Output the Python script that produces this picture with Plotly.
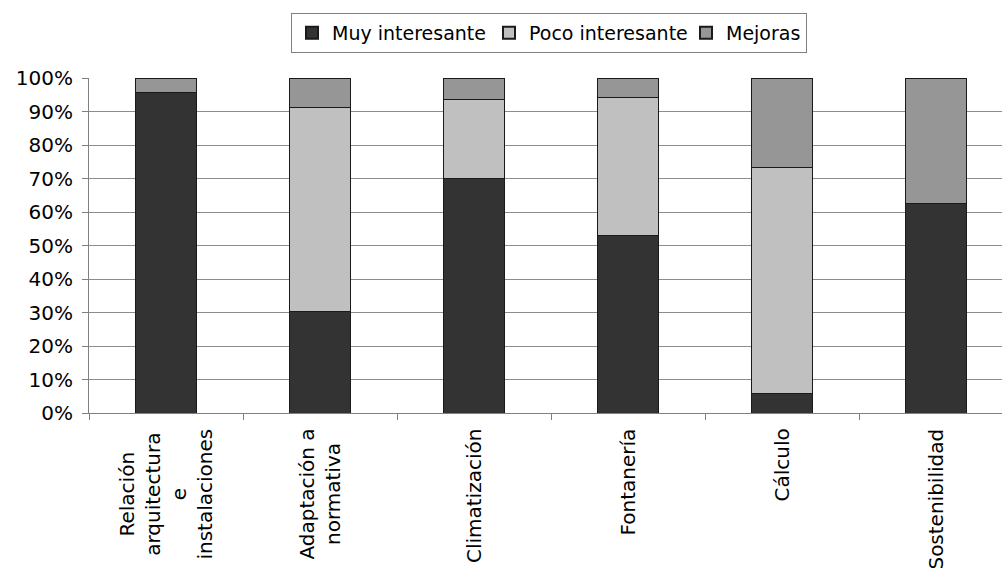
import plotly.graph_objects as go

categories = ["Relación<br>arquitectura<br>e<br>instalaciones", "Adaptación a<br>normativa",
              "Climatización", "Fontanería", "Cálculo", "Sostenibilidad"]
muy_interesante = [95.6, 30.4, 70.0, 52.9, 5.9, 62.5]
poco_interesante = [0.0, 60.9, 23.6, 41.2, 67.4, 0.0]
mejoras = [4.4, 8.7, 6.4, 5.9, 26.7, 37.5]
y_ticks = [0, 10, 20, 30, 40, 50, 60, 70, 80, 90, 100]

FONT = "DejaVu Sans"
xpos = list(range(len(categories)))

# name, values, fill colour, legend entry width (px)
series = [
    ("Muy interesante", muy_interesante, "#333333", 152),
    ("Poco interesante", poco_interesante, "#c0c0c0", 152),
    ("Mejoras", mejoras, "#969696", None),
]

fig = go.Figure()
for name, vals, color, lw in series:
    fig.add_trace(go.Bar(
        x=xpos, y=[v / 100 for v in vals], name=name,
        marker=dict(color=color, line=dict(color="#1a1a1a", width=1)),
        width=0.4, legendwidth=lw,
    ))

# Category labels, rotated and centred line by line
for i, lab in enumerate(categories):
    fig.add_annotation(
        x=i, xref="x", y=-0.042, yref="paper",
        text=lab, textangle=-90, showarrow=False,
        xanchor="center", yanchor="top", align="center",
        font=dict(family=FONT, size=20, color="#000000"),
    )

fig.update_layout(
    barmode="stack",
    width=1002, height=568,
    margin=dict(l=89, r=0, t=78, b=155),
    paper_bgcolor="white", plot_bgcolor="white",
    font=dict(family=FONT, size=20, color="#000000"),
    legend=dict(
        orientation="h", xref="container", yref="container",
        x=549 / 1002, y=1 - 13 / 568, xanchor="center", yanchor="top",
        bordercolor="#808080", borderwidth=1,
        font=dict(family=FONT, size=19, color="#000000"),
        itemsizing="constant", traceorder="normal",
    ),
    showlegend=True,
)
fig.update_xaxes(
    type="linear", range=[-0.5, -0.5 + (1002 - 89) / 154],
    tickmode="array", tickvals=[i + 0.5 for i in range(-1, len(categories))],
    showticklabels=False, ticks="outside", ticklen=6, tickcolor="#808080",
    showline=True, linecolor="#808080", linewidth=1,
    showgrid=False, zeroline=False,
)
fig.update_yaxes(
    range=[0, 1], tickmode="array", tickvals=[t / 100 for t in y_ticks],
    ticktext=[f"{t}%" for t in y_ticks],
    ticks="outside", ticklen=6, tickcolor="#808080",
    ticklabelstandoff=5,
    showline=True, linecolor="#808080", linewidth=1,
    showgrid=True, gridcolor="#8c8c8c", gridwidth=1, zeroline=False,
    tickfont=dict(family=FONT, size=20, color="#000000"),
)

fig.write_html("out.html")
